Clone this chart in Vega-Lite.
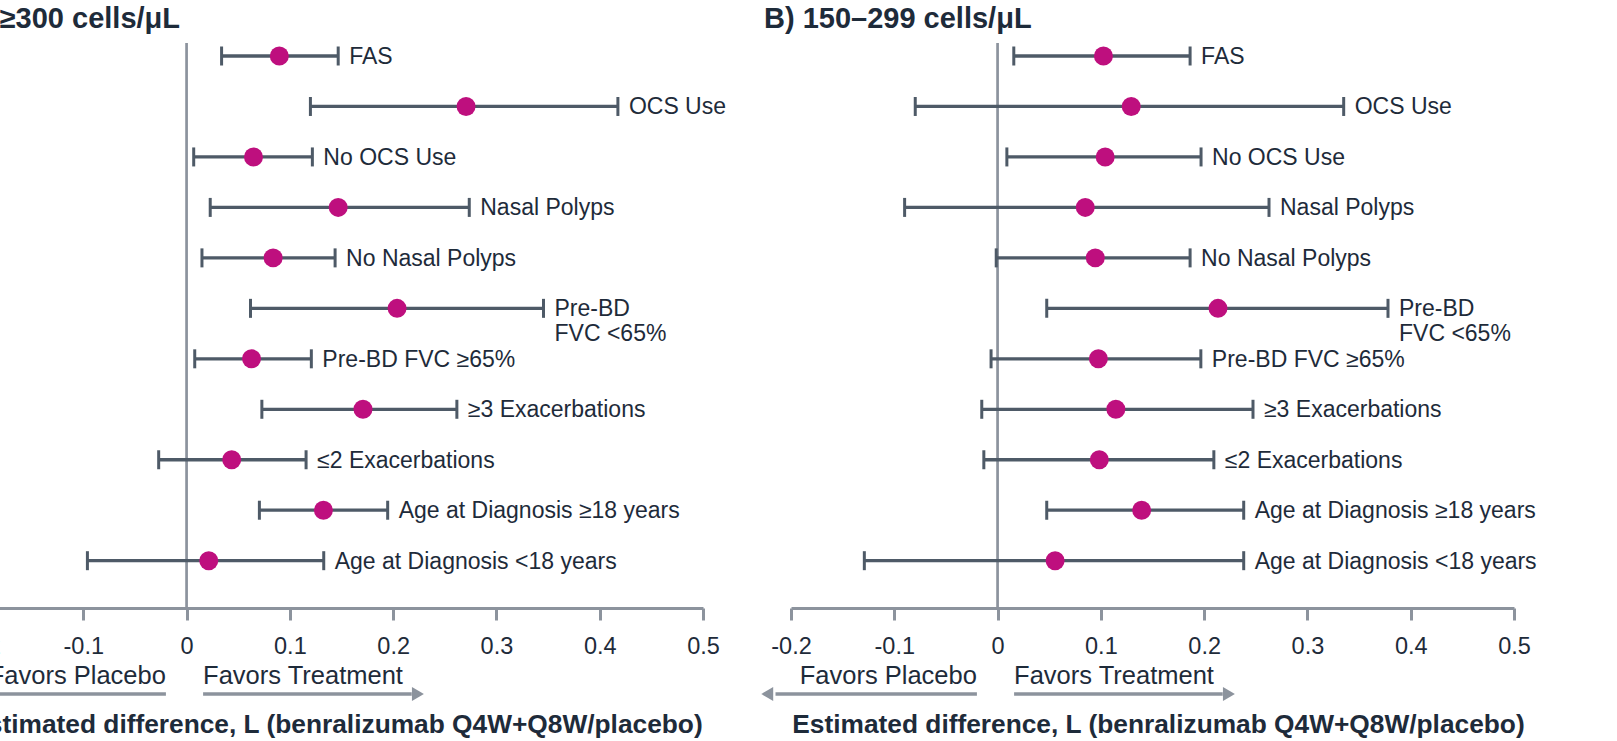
{
  "$schema": "https://vega.github.io/schema/vega-lite/v6.json",
  "background": "white",
  "padding": {"left": -50, "top": 5, "right": 0, "bottom": 0},
  "config": {"view": {"stroke": null}, "font": "Liberation Sans"},
  "datasets": {
    "forest": [
      {"panel": "A", "sub": "FAS", "lo": 0.0339, "est": 0.0898, "hi": 0.1468},
      {"panel": "A", "sub": "OCS Use", "lo": 0.1199, "est": 0.2706, "hi": 0.4176},
      {"panel": "A", "sub": "No OCS Use", "lo": 0.0069, "est": 0.0648, "hi": 0.1218},
      {"panel": "A", "sub": "Nasal Polyps", "lo": 0.0229, "est": 0.1468, "hi": 0.2737},
      {"panel": "A", "sub": "No Nasal Polyps", "lo": 0.0149, "est": 0.0838, "hi": 0.1438},
      {"panel": "A", "sub": "Pre-BD\nFVC <65%", "lo": 0.0619, "est": 0.2038, "hi": 0.3456},
      {"panel": "A", "sub": "Pre-BD FVC ≥65%", "lo": 0.0079, "est": 0.0629, "hi": 0.1208},
      {"panel": "A", "sub": "≥3 Exacerbations", "lo": 0.0729, "est": 0.1708, "hi": 0.2617},
      {"panel": "A", "sub": "≤2 Exacerbations", "lo": -0.027, "est": 0.0437, "hi": 0.1157},
      {"panel": "A", "sub": "Age at Diagnosis ≥18 years", "lo": 0.0705, "est": 0.1325, "hi": 0.1947},
      {"panel": "A", "sub": "Age at Diagnosis <18 years", "lo": -0.096, "est": 0.0215, "hi": 0.1328},
      {"panel": "B", "sub": "FAS", "lo": 0.0157, "est": 0.1025, "hi": 0.1864},
      {"panel": "B", "sub": "OCS Use", "lo": -0.0797, "est": 0.1294, "hi": 0.3351},
      {"panel": "B", "sub": "No OCS Use", "lo": 0.009, "est": 0.1042, "hi": 0.197},
      {"panel": "B", "sub": "Nasal Polyps", "lo": -0.09, "est": 0.0849, "hi": 0.2628},
      {"panel": "B", "sub": "No Nasal Polyps", "lo": -0.0013, "est": 0.0946, "hi": 0.1864},
      {"panel": "B", "sub": "Pre-BD\nFVC <65%", "lo": 0.0476, "est": 0.2134, "hi": 0.378},
      {"panel": "B", "sub": "Pre-BD FVC ≥65%", "lo": -0.0063, "est": 0.0976, "hi": 0.1968},
      {"panel": "B", "sub": "≥3 Exacerbations", "lo": -0.0153, "est": 0.1145, "hi": 0.2473},
      {"panel": "B", "sub": "≤2 Exacerbations", "lo": -0.0133, "est": 0.0985, "hi": 0.2094},
      {"panel": "B", "sub": "Age at Diagnosis ≥18 years", "lo": 0.0476, "est": 0.1395, "hi": 0.2383},
      {"panel": "B", "sub": "Age at Diagnosis <18 years", "lo": -0.129, "est": 0.0557, "hi": 0.2383}
    ],
    "favors": [
      {"part": "line", "row": "arrow", "side": "placebo", "x": -0.215, "x2": -0.02},
      {"part": "line", "row": "arrow", "side": "treatment", "x": 0.016, "x2": 0.218},
      {"part": "head", "row": "arrow", "side": "placebo", "x": -0.223},
      {"part": "head", "row": "arrow", "side": "treatment", "x": 0.224},
      {"part": "text", "row": "label", "side": "placebo", "x": -0.02, "label": "Favors Placebo"},
      {"part": "text", "row": "label", "side": "treatment", "x": 0.016, "label": "Favors Treatment"}
    ]
  },
  "bounds": "full",
  "spacing": 6,
  "vconcat": [
    {
      "bounds": "flush",
      "spacing": 88,
      "hconcat": [
        {
          "title": {"text": "A) ≥300 cells/μL", "anchor": "start", "frame": "group", "dx": -19, "fontSize": 29, "fontWeight": "bold", "font": "Liberation Sans", "color": "#1e2b3a", "baseline": "alphabetic", "offset": -15.5},
          "width": 723,
          "height": 565,
          "layer": [
            {
              "data": {"values": [{"ref": 0}]},
              "mark": {"type": "rule", "color": "#8c939d", "strokeWidth": 2.7},
              "encoding": {
                "x": {"field": "ref", "type": "quantitative", "title": null,
                  "scale": {"domain": [-0.2, 0.5], "nice": false, "zero": false},
                  "axis": {"values": [-0.2, -0.1, 0, 0.1, 0.2, 0.3, 0.4, 0.5], "labelExpr": "'' + datum.value", "grid": false, "domainColor": "#8c939d", "domainWidth": 3, "tickColor": "#8c939d", "tickWidth": 3, "tickSize": 12, "labelFontSize": 23.5, "labelFont": "Liberation Sans", "labelColor": "#1e2b3a", "labelPadding": 14, "labelFlush": false, "labelOverlap": false}}
              }
            },
            {
              "data": {"name": "forest"},
              "transform": [{"filter": "datum.panel === 'A'"}],
              "mark": {"type": "rule", "color": "#4e5a67", "strokeWidth": 3.3},
              "encoding": {
                "x": {"field": "lo", "type": "quantitative", "title": null, "scale": {"domain": [-0.2, 0.5], "nice": false, "zero": false}},
                "x2": {"field": "hi"},
                "y": {"field": "sub", "type": "nominal", "sort": null, "axis": null, "scale": {"type": "point", "padding": 0.5975, "align": 0.2156}}
              }
            },
            {
              "data": {"name": "forest"},
              "transform": [{"filter": "datum.panel === 'A'"}],
              "mark": {"type": "tick", "color": "#4e5a67", "thickness": 3, "size": 19, "orient": "vertical", "opacity": 1},
              "encoding": {
                "x": {"field": "lo", "type": "quantitative", "title": null, "scale": {"domain": [-0.2, 0.5], "nice": false, "zero": false}},
                "y": {"field": "sub", "type": "nominal", "sort": null, "axis": null, "scale": {"type": "point", "padding": 0.5975, "align": 0.2156}}
              }
            },
            {
              "data": {"name": "forest"},
              "transform": [{"filter": "datum.panel === 'A'"}],
              "mark": {"type": "tick", "color": "#4e5a67", "thickness": 3, "size": 19, "orient": "vertical", "opacity": 1},
              "encoding": {
                "x": {"field": "hi", "type": "quantitative", "title": null, "scale": {"domain": [-0.2, 0.5], "nice": false, "zero": false}},
                "y": {"field": "sub", "type": "nominal", "sort": null, "axis": null, "scale": {"type": "point", "padding": 0.5975, "align": 0.2156}}
              }
            },
            {
              "data": {"name": "forest"},
              "transform": [{"filter": "datum.panel === 'A'"}],
              "mark": {"type": "point", "filled": true, "size": 360, "color": "#be0f7e", "opacity": 1},
              "encoding": {
                "x": {"field": "est", "type": "quantitative", "title": null, "scale": {"domain": [-0.2, 0.5], "nice": false, "zero": false}},
                "y": {"field": "sub", "type": "nominal", "sort": null, "axis": null, "scale": {"type": "point", "padding": 0.5975, "align": 0.2156}}
              }
            },
            {
              "data": {"name": "forest"},
              "transform": [{"filter": "datum.panel === 'A'"}],
              "mark": {"type": "text", "align": "left", "baseline": "alphabetic", "dx": 11, "dy": 8, "fontSize": 23, "font": "Liberation Sans", "color": "#1e2b3a", "lineBreak": "\n", "lineHeight": 25},
              "encoding": {
                "x": {"field": "hi", "type": "quantitative", "title": null, "scale": {"domain": [-0.2, 0.5], "nice": false, "zero": false}},
                "y": {"field": "sub", "type": "nominal", "sort": null, "axis": null, "scale": {"type": "point", "padding": 0.5975, "align": 0.2156}},
                "text": {"field": "sub"}
              }
            }
          ]
        },
        {
          "title": {"text": "B) 150–299 cells/μL", "anchor": "start", "frame": "group", "dx": -27, "fontSize": 29, "fontWeight": "bold", "font": "Liberation Sans", "color": "#1e2b3a", "baseline": "alphabetic", "offset": -15.5},
          "width": 723,
          "height": 565,
          "layer": [
            {
              "data": {"values": [{"ref": 0}]},
              "mark": {"type": "rule", "color": "#8c939d", "strokeWidth": 2.7},
              "encoding": {
                "x": {"field": "ref", "type": "quantitative", "title": null,
                  "scale": {"domain": [-0.2, 0.5], "nice": false, "zero": false},
                  "axis": {"values": [-0.2, -0.1, 0, 0.1, 0.2, 0.3, 0.4, 0.5], "labelExpr": "'' + datum.value", "grid": false, "domainColor": "#8c939d", "domainWidth": 3, "tickColor": "#8c939d", "tickWidth": 3, "tickSize": 12, "labelFontSize": 23.5, "labelFont": "Liberation Sans", "labelColor": "#1e2b3a", "labelPadding": 14, "labelFlush": false, "labelOverlap": false}}
              }
            },
            {
              "data": {"name": "forest"},
              "transform": [{"filter": "datum.panel === 'B'"}],
              "mark": {"type": "rule", "color": "#4e5a67", "strokeWidth": 3.3},
              "encoding": {
                "x": {"field": "lo", "type": "quantitative", "title": null, "scale": {"domain": [-0.2, 0.5], "nice": false, "zero": false}},
                "x2": {"field": "hi"},
                "y": {"field": "sub", "type": "nominal", "sort": null, "axis": null, "scale": {"type": "point", "padding": 0.5975, "align": 0.2156}}
              }
            },
            {
              "data": {"name": "forest"},
              "transform": [{"filter": "datum.panel === 'B'"}],
              "mark": {"type": "tick", "color": "#4e5a67", "thickness": 3, "size": 19, "orient": "vertical", "opacity": 1},
              "encoding": {
                "x": {"field": "lo", "type": "quantitative", "title": null, "scale": {"domain": [-0.2, 0.5], "nice": false, "zero": false}},
                "y": {"field": "sub", "type": "nominal", "sort": null, "axis": null, "scale": {"type": "point", "padding": 0.5975, "align": 0.2156}}
              }
            },
            {
              "data": {"name": "forest"},
              "transform": [{"filter": "datum.panel === 'B'"}],
              "mark": {"type": "tick", "color": "#4e5a67", "thickness": 3, "size": 19, "orient": "vertical", "opacity": 1},
              "encoding": {
                "x": {"field": "hi", "type": "quantitative", "title": null, "scale": {"domain": [-0.2, 0.5], "nice": false, "zero": false}},
                "y": {"field": "sub", "type": "nominal", "sort": null, "axis": null, "scale": {"type": "point", "padding": 0.5975, "align": 0.2156}}
              }
            },
            {
              "data": {"name": "forest"},
              "transform": [{"filter": "datum.panel === 'B'"}],
              "mark": {"type": "point", "filled": true, "size": 360, "color": "#be0f7e", "opacity": 1},
              "encoding": {
                "x": {"field": "est", "type": "quantitative", "title": null, "scale": {"domain": [-0.2, 0.5], "nice": false, "zero": false}},
                "y": {"field": "sub", "type": "nominal", "sort": null, "axis": null, "scale": {"type": "point", "padding": 0.5975, "align": 0.2156}}
              }
            },
            {
              "data": {"name": "forest"},
              "transform": [{"filter": "datum.panel === 'B'"}],
              "mark": {"type": "text", "align": "left", "baseline": "alphabetic", "dx": 11, "dy": 8, "fontSize": 23, "font": "Liberation Sans", "color": "#1e2b3a", "lineBreak": "\n", "lineHeight": 25},
              "encoding": {
                "x": {"field": "hi", "type": "quantitative", "title": null, "scale": {"domain": [-0.2, 0.5], "nice": false, "zero": false}},
                "y": {"field": "sub", "type": "nominal", "sort": null, "axis": null, "scale": {"type": "point", "padding": 0.5975, "align": 0.2156}},
                "text": {"field": "sub"}
              }
            }
          ]
        }
      ]
    },
    {
      "bounds": "flush",
      "spacing": 88,
      "hconcat": [
        {
          "width": 723,
          "height": 10,
          "data": {"name": "favors"},
          "layer": [
            {
              "transform": [{"filter": "datum.part === 'line'"}],
              "mark": {"type": "rule", "color": "#8c939d", "strokeWidth": 3.5},
              "encoding": {
                "x": {"field": "x", "type": "quantitative", "scale": {"domain": [-0.2, 0.5], "nice": false, "zero": false},
                  "axis": {"title": "Estimated difference, L (benralizumab Q4W+Q8W/placebo)", "labels": false, "ticks": false, "domain": false, "grid": false, "titleFontSize": 26.3, "titleFontWeight": "bold", "titleFont": "Liberation Sans", "titleColor": "#1e2b3a", "titlePadding": 38, "titleBaseline": "alphabetic", "titleX": 356}},
                "x2": {"field": "x2"},
                "y": {"field": "row", "type": "nominal", "axis": null, "scale": {"type": "point", "padding": 0, "domain": ["label", "arrow"]}}
              }
            },
            {
              "transform": [{"filter": "datum.part === 'head'"}],
              "mark": {"type": "point", "filled": true, "size": 190, "color": "#8c939d", "opacity": 1},
              "encoding": {
                "x": {"field": "x", "type": "quantitative"},
                "y": {"field": "row", "type": "nominal", "axis": null, "scale": {"type": "point", "padding": 0, "domain": ["label", "arrow"]}},
                "shape": {"field": "side", "type": "nominal", "legend": null, "scale": {"domain": ["placebo", "treatment"], "range": ["triangle-left", "triangle-right"]}}
              }
            },
            {
              "transform": [{"filter": "datum.part === 'text' && datum.side === 'placebo'"}],
              "mark": {"type": "text", "align": "right", "baseline": "alphabetic", "fontSize": 25.5, "font": "Liberation Sans", "color": "#1e2b3a"},
              "encoding": {
                "x": {"field": "x", "type": "quantitative"},
                "y": {"field": "row", "type": "nominal", "axis": null, "scale": {"type": "point", "padding": 0, "domain": ["label", "arrow"]}},
                "text": {"field": "label"}
              }
            },
            {
              "transform": [{"filter": "datum.part === 'text' && datum.side === 'treatment'"}],
              "mark": {"type": "text", "align": "left", "baseline": "alphabetic", "fontSize": 25.5, "font": "Liberation Sans", "color": "#1e2b3a"},
              "encoding": {
                "x": {"field": "x", "type": "quantitative"},
                "y": {"field": "row", "type": "nominal", "axis": null, "scale": {"type": "point", "padding": 0, "domain": ["label", "arrow"]}},
                "text": {"field": "label"}
              }
            }
          ]
        },
        {
          "width": 723,
          "height": 10,
          "data": {"name": "favors"},
          "layer": [
            {
              "transform": [{"filter": "datum.part === 'line'"}],
              "mark": {"type": "rule", "color": "#8c939d", "strokeWidth": 3.5},
              "encoding": {
                "x": {"field": "x", "type": "quantitative", "scale": {"domain": [-0.2, 0.5], "nice": false, "zero": false},
                  "axis": {"title": "Estimated difference, L (benralizumab Q4W+Q8W/placebo)", "labels": false, "ticks": false, "domain": false, "grid": false, "titleFontSize": 26.3, "titleFontWeight": "bold", "titleFont": "Liberation Sans", "titleColor": "#1e2b3a", "titlePadding": 38, "titleBaseline": "alphabetic", "titleX": 367}},
                "x2": {"field": "x2"},
                "y": {"field": "row", "type": "nominal", "axis": null, "scale": {"type": "point", "padding": 0, "domain": ["label", "arrow"]}}
              }
            },
            {
              "transform": [{"filter": "datum.part === 'head'"}],
              "mark": {"type": "point", "filled": true, "size": 190, "color": "#8c939d", "opacity": 1},
              "encoding": {
                "x": {"field": "x", "type": "quantitative"},
                "y": {"field": "row", "type": "nominal", "axis": null, "scale": {"type": "point", "padding": 0, "domain": ["label", "arrow"]}},
                "shape": {"field": "side", "type": "nominal", "legend": null, "scale": {"domain": ["placebo", "treatment"], "range": ["triangle-left", "triangle-right"]}}
              }
            },
            {
              "transform": [{"filter": "datum.part === 'text' && datum.side === 'placebo'"}],
              "mark": {"type": "text", "align": "right", "baseline": "alphabetic", "fontSize": 25.5, "font": "Liberation Sans", "color": "#1e2b3a"},
              "encoding": {
                "x": {"field": "x", "type": "quantitative"},
                "y": {"field": "row", "type": "nominal", "axis": null, "scale": {"type": "point", "padding": 0, "domain": ["label", "arrow"]}},
                "text": {"field": "label"}
              }
            },
            {
              "transform": [{"filter": "datum.part === 'text' && datum.side === 'treatment'"}],
              "mark": {"type": "text", "align": "left", "baseline": "alphabetic", "fontSize": 25.5, "font": "Liberation Sans", "color": "#1e2b3a"},
              "encoding": {
                "x": {"field": "x", "type": "quantitative"},
                "y": {"field": "row", "type": "nominal", "axis": null, "scale": {"type": "point", "padding": 0, "domain": ["label", "arrow"]}},
                "text": {"field": "label"}
              }
            }
          ]
        }
      ]
    }
  ]
}
